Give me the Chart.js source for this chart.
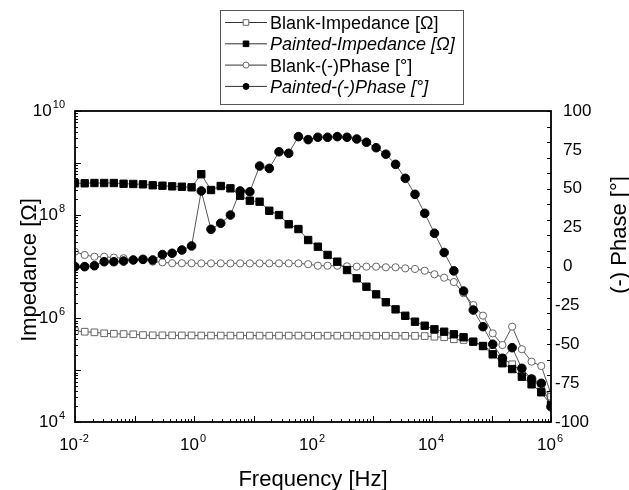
<!DOCTYPE html>
<html><head><meta charset="utf-8">
<script src="https://cdn.jsdelivr.net/npm/chart.js@4.4.1/dist/chart.umd.min.js"></script>
<style>html,body{margin:0;padding:0;background:#fff;}#wrap{width:629px;height:490px;position:relative;}</style>
</head><body><div id="wrap"><canvas id="c" width="629" height="490"></canvas></div>
<script>
// ---- data ----
const frequencies = [0.01,0.01456,0.02121,0.03089,0.04498,0.06551,0.09541,0.1389,0.2024,0.2947,
 0.4292,0.6251,0.9103,1.326,1.931,2.812,4.095,5.964,8.685,12.65,
 18.42,26.83,39.07,56.90,82.86,120.7,175.8,256.0,372.8,542.9,
 790.6,1151,1677,2442,3556,5179,7543,10985,15999,23300,
 33932,49417,71969,104811,152642,222300,323746,471487,686649,1000000];
const blankImpedance = [5.69e5,5.52e5,5.37e5,5.14e5,5.05e5,4.98e5,4.92e5,4.76e5,4.71e5,4.70e5,
 4.70e5,4.68e5,4.68e5,4.66e5,4.66e5,4.65e5,4.65e5,4.65e5,4.65e5,4.64e5,
 4.64e5,4.64e5,4.64e5,4.64e5,4.63e5,4.63e5,4.63e5,4.63e5,4.63e5,4.63e5,
 4.62e5,4.62e5,4.62e5,4.61e5,4.60e5,4.58e5,4.55e5,4.42e5,4.31e5,3.94e5,
 3.82e5,3.54e5,2.96e5,2.27e5,1.69e5,1.30e5,9.33e4,6.75e4,4.80e4,3.08e4];
const paintedImpedance = [4.03e8,4.03e8,4.08e8,4.08e8,4.08e8,3.95e8,3.91e8,3.85e8,3.69e8,3.62e8,
 3.52e8,3.46e8,3.37e8,6.03e8,2.99e8,3.57e8,3.22e8,2.32e8,1.86e8,1.78e8,
 1.19e8,9.84e7,6.52e7,5.28e7,3.24e7,2.41e7,1.67e7,1.24e7,8.55e6,5.92e6,
 4.07e6,2.90e6,2.04e6,1.49e6,1.12e6,8.61e5,7.21e5,6.14e5,5.52e5,4.92e5,
 4.31e5,3.55e5,2.92e5,2.02e5,1.36e5,1.05e5,7.48e4,5.33e4,3.74e4,2.13e4];
const blankPhase = [9.5,7.4,6.3,6.3,5.7,5.3,4.2,4.2,3.1,2.7,
 2.1,2.1,2.1,2.0,2.0,2.0,2.0,2.0,2.0,2.0,
 2.0,2.0,2.0,2.0,1.5,0.5,0.5,0.5,0.1,-0.1,
 -0.1,-0.1,-0.5,-0.5,-1.2,-1.6,-2.7,-5.0,-7.2,-10.0,
 -17.2,-24.8,-31.6,-43.0,-50.5,-38.7,-53.2,-61.2,-64.0,-82.0];
const paintedPhase = [-0.1,-0.1,0.5,3.1,3.1,3.5,4.2,4.6,4.2,7.7,
 8.5,10.6,13.2,48.6,23.9,27.8,33.1,48.6,48.1,64.6,
 63.1,73.8,72.8,83.5,81.6,83.1,83.1,83.5,83.1,82.0,
 79.9,76.4,72.2,65.7,56.7,46.4,34.2,21.4,9.0,-2.8,
 -15.8,-28.0,-38.7,-50.0,-59.0,-52.2,-65.5,-72.3,-75.1,-90.2];
const seriesNames = ['Blank-Impedance [\u03A9]','Painted-Impedance [\u03A9]','Blank-(-)Phase [\u00B0]','Painted-(-)Phase [\u00B0]'];
const xTickExponents = [-2,0,2,4,6];
const yTickExponents = [4,6,8,10];
const phaseTickLabels = [100,75,50,25,0,-25,-50,-75,-100];
const xTitle = 'Frequency [Hz]';
const yTitle = 'Impedance [\u03A9]';
const y2Title = '(-) Phase [\u00B0]';

const pts = arr => frequencies.map((f,i)=>({x:f,y:arr[i]}));
const FONT = '"Liberation Sans", Arial, sans-serif';

const styles = [
  {style:'rect', r:4.7, fill:'#fff', stroke:'#666', italic:false},
  {style:'rect', r:5.2, fill:'#000', stroke:'#000', italic:true},
  {style:'circle', r:3.6, fill:'#fff', stroke:'#666', italic:false},
  {style:'circle', r:4.3, fill:'#000', stroke:'#000', italic:true}
];

function drawPow(ctx, exp, x, y, align){
  ctx.font = '17px ' + FONT;
  const wb = ctx.measureText('10').width;
  ctx.font = '11px ' + FONT;
  const es = String(exp);
  const we = ctx.measureText(es).width;
  const total = wb + we + 1;
  let sx = align === 'center' ? x - total/2 : x - total;
  ctx.textAlign = 'left'; ctx.textBaseline = 'alphabetic';
  ctx.font = '17px ' + FONT;
  ctx.fillText('10', sx, y);
  ctx.font = '11px ' + FONT;
  ctx.fillText(es, sx + wb + 1, y - 8);
}

const decor = {
  id:'decor',
  afterDraw(chart){
    const ctx = chart.ctx, ca = chart.chartArea;
    const xs = chart.scales.x, ys = chart.scales.y, y2 = chart.scales.y2;
    ctx.save();
    ctx.fillStyle = '#000'; ctx.strokeStyle = '#000';
    // frame
    ctx.lineWidth = 1.8;
    ctx.strokeRect(ca.left, ca.top, ca.right-ca.left, ca.bottom-ca.top);
    ctx.lineWidth = 1;
    ctx.beginPath();
    // x ticks (inward)
    for (let e=-2; e<=6; e++){
      for (let k=1; k<=9; k++){
        if (e===6 && k>1) break;
        const px = Math.round(xs.getPixelForValue(k*Math.pow(10,e)))+0.5;
        const len = k===1 ? 6 : 3;
        ctx.moveTo(px, ca.bottom); ctx.lineTo(px, ca.bottom-len);
      }
    }
    // left y ticks
    for (let e=4; e<=10; e++){
      for (let k=1; k<=9; k++){
        if (e===10 && k>1) break;
        const py = Math.round(ys.getPixelForValue(k*Math.pow(10,e)))+0.5;
        const len = k===1 ? 6 : 3;
        ctx.moveTo(ca.left, py); ctx.lineTo(ca.left+len, py);
      }
    }
    // right ticks every 10
    for (let v=-100; v<=100; v+=10){
      const py = Math.round(y2.getPixelForValue(v))+0.5;
      ctx.moveTo(ca.right, py); ctx.lineTo(ca.right-4, py);
    }
    ctx.stroke();
    // x labels
    xTickExponents.forEach(e => drawPow(ctx, e, xs.getPixelForValue(Math.pow(10,e)) - 1, 450, 'center'));
    // left labels
    yTickExponents.forEach(e => drawPow(ctx, e, 65, ys.getPixelForValue(Math.pow(10,e)) + 5, 'right'));
    // right labels
    ctx.font = '17px ' + FONT; ctx.textAlign='left'; ctx.textBaseline='middle';
    phaseTickLabels.forEach(v => {
      const py = y2.getPixelForValue(v);
      ctx.fillText(String(v), v<0 ? 555 : 563, py);
    });
    // titles
    ctx.font = '22px ' + FONT; ctx.textBaseline='alphabetic'; ctx.textAlign='center';
    ctx.fillText(xTitle, (ca.left+ca.right)/2, 486);
    ctx.save(); ctx.translate(36, 270); ctx.rotate(-Math.PI/2); ctx.fillText(yTitle, 0, 0); ctx.restore();
    ctx.save(); ctx.translate(626, 235); ctx.rotate(-Math.PI/2); ctx.fillText(y2Title, 0, 0); ctx.restore();
    // legend
    ctx.lineWidth = 1; ctx.strokeStyle = '#555';
    ctx.fillStyle = '#fff';
    ctx.fillRect(220.5, 10.5, 243, 94);
    ctx.strokeRect(220.5, 10.5, 243, 94);
    seriesNames.forEach((name, k) => {
      const base = 29 + k*21.3;
      const cy = base - 6.5;
      const st = styles[k];
      ctx.strokeStyle = '#333'; ctx.lineWidth = 1;
      ctx.beginPath(); ctx.moveTo(225, cy); ctx.lineTo(267, cy); ctx.stroke();
      ctx.fillStyle = st.fill; ctx.strokeStyle = st.stroke;
      ctx.beginPath();
      if (st.style==='rect'){ ctx.rect(246-2.8, cy-2.8, 5.6, 5.6); }
      else { ctx.arc(246, cy, 3, 0, Math.PI*2); }
      ctx.fill(); ctx.stroke();
      ctx.fillStyle = '#000'; ctx.textAlign='left'; ctx.textBaseline='alphabetic';
      ctx.font = (st.italic ? 'italic ' : '') + '18px ' + FONT;
      ctx.fillText(name, 270, base);
    });
    ctx.restore();
  }
};

const makeDs = (k, data, axis) => ({
  label: seriesNames[k], data: pts(data), yAxisID: axis,
  borderColor:'#444', borderWidth:0.9, tension:0, fill:false,
  pointStyle: styles[k].style, pointRadius: styles[k].r, pointHoverRadius: styles[k].r,
  pointBackgroundColor: styles[k].fill, pointBorderColor: styles[k].stroke, pointBorderWidth:1,
  order: styles[k].italic ? 1 : 2
});

const hidden = { grid:{display:false}, border:{display:false}, ticks:{display:false} };

new Chart(document.getElementById('c'), {
  type:'line',
  data:{ datasets:[
    makeDs(0, blankImpedance, 'y'),
    makeDs(1, paintedImpedance, 'y'),
    makeDs(2, blankPhase, 'y2'),
    makeDs(3, paintedPhase, 'y2')
  ]},
  options:{
    responsive:false, animation:false, devicePixelRatio:1,
    layout:{ padding:{ top:111, left:0, right:0, bottom:0 } },
    plugins:{ legend:{display:false}, tooltip:{enabled:false} },
    scales:{
      x:{ type:'logarithmic', min:0.01, max:1e6, ...hidden, afterFit(s){ s.height = 68; } },
      y:{ type:'logarithmic', position:'left', min:1e4, max:1e10, ...hidden, afterFit(s){ s.width = 75; } },
      y2:{ type:'linear', position:'right', min:-100, max:100, ...hidden, afterFit(s){ s.width = 78; } }
    }
  },
  plugins:[decor]
});
</script></body></html>
